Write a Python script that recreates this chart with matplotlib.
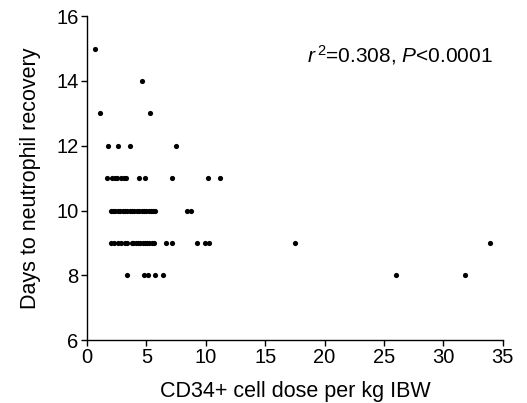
import numpy as np
import matplotlib
matplotlib.use('Agg')
import matplotlib.pyplot as plt

plt.rcParams['font.family'] = ['Liberation Sans', 'DejaVu Sans']
plt.rcParams['mathtext.fontset'] = 'custom'
plt.rcParams['mathtext.rm'] = 'Liberation Sans'
plt.rcParams['mathtext.it'] = 'Liberation Sans:italic'

## 数据：CD34+ 剂量 与 中性粒细胞恢复天数
dose_15 = [0.64]
dose_14 = [4.62]
dose_13 = [1.12, 5.32]
dose_12 = [1.77, 2.60, 3.64, 7.48]
dose_11 = [1.68, 2.15, 2.38, 2.57, 2.86, 3.08, 3.31, 4.34, 4.85, 7.20, 10.23, 11.19]
dose_10 = [2.00, 2.20, 2.40, 2.60, 2.80, 3.00, 3.20, 3.40, 3.60, 3.80, 4.00, 4.20,
           4.40, 4.60, 4.80, 5.00, 5.20, 5.40, 5.60, 5.75, 8.41, 8.75]
dose_9 = [2.00, 2.25, 2.60, 2.90, 3.20, 3.40, 3.75, 3.90, 4.10, 4.30, 4.50, 4.70,
          4.85, 5.05, 5.25, 5.45, 5.65, 6.67, 7.17, 9.30, 9.92, 10.26, 17.50, 33.92]
dose_8 = [3.36, 4.76, 5.18, 5.74, 6.39, 26.00, 31.80]

groups = {15: dose_15, 14: dose_14, 13: dose_13, 12: dose_12,
          11: dose_11, 10: dose_10, 9: dose_9, 8: dose_8}

x = []
y = []
for days, doses in groups.items():
    x += doses
    y += [days] * len(doses)

fig = plt.figure(figsize=(5.27, 4.03), dpi=100)
ax = fig.add_axes([0.165, 0.156, 0.789, 0.804])
ax.scatter(x, y, c='black', s=14, linewidths=0)

ax.set_xlim(0, 35)
ax.set_ylim(6, 16)
ax.set_xticks(range(0, 36, 5))
ax.set_yticks(range(6, 17, 2))
ax.spines['top'].set_visible(False)
ax.spines['right'].set_visible(False)
ax.spines['left'].set_linewidth(1.0)
ax.spines['bottom'].set_linewidth(1.0)
ax.tick_params(labelsize=14.5, length=4, width=1.0, direction='out', pad=2)

ax.set_xlabel('CD34+ cell dose per kg IBW', fontsize=15.5, labelpad=10)
ax.set_ylabel('Days to neutrophil recovery', fontsize=15.5, labelpad=11)

ax.text(0.975, 0.88, r'$\it{r}^{\,2}$=0.308, $\it{P}$<0.0001', transform=ax.transAxes,
        ha='right', va='center', fontsize=15)

fig.savefig('out.png', dpi=100)
